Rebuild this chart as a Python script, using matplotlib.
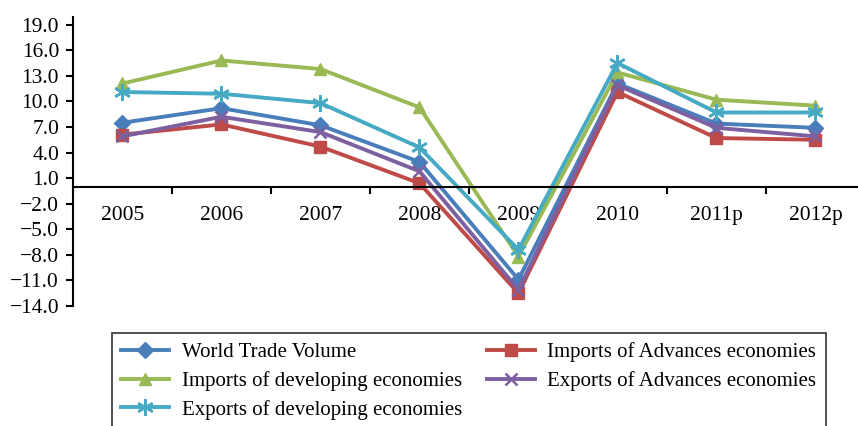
import matplotlib
matplotlib.use("Agg")
import matplotlib.pyplot as plt

years = ["2005", "2006", "2007", "2008", "2009", "2010", "2011p", "2012p"]

world_trade = [7.5, 9.2, 7.2, 2.9, -10.9, 12.1, 7.4, 6.9]
imports_adv = [6.1, 7.3, 4.7, 0.4, -12.5, 11.1, 5.7, 5.5]
imports_dev = [12.1, 14.8, 13.8, 9.3, -8.2, 13.4, 10.2, 9.5]
exports_adv = [5.9, 8.2, 6.4, 1.8, -12.1, 11.9, 6.9, 5.9]
exports_dev = [11.1, 10.9, 9.8, 4.6, -7.4, 14.5, 8.7, 8.7]

series = [
    ("World Trade Volume", world_trade, "#4a7ebb", "D", 8),
    ("Imports of Advances economies", imports_adv, "#be4b48", "s", 9),
    ("Imports of developing economies", imports_dev, "#98b954", "^", 9),
    ("Exports of Advances economies", exports_adv, "#7d60a0", "x", 9),
    ("Exports of developing economies", exports_dev, "#46aac5", (6, 2, 0), 12),
]

plt.rcParams["font.family"] = ["Liberation Serif", "DejaVu Serif"]
plt.rcParams["font.size"] = 15.5

fig = plt.figure(figsize=(8.58, 4.26), dpi=100)
ax = fig.add_axes([73 / 858, 1 - 306 / 426, 1 - 73 / 858, (306 - 17) / 426])

x = list(range(len(years)))
lines = {}
for name, vals, color, marker, ms in series:
    mew = 1.8 if marker in ("x", (6, 2, 0)) else 1
    (ln,) = ax.plot(x, vals, color=color, lw=2.8, marker=marker, ms=ms,
                    mew=mew, label=name)
    lines[name] = ln

ax.set_xlim(-0.5, 7.43)
ax.set_ylim(-14, 19.9)
ax.set_yticks([19, 16, 13, 10, 7, 4, 1, -2, -5, -8, -11, -14])
ax.set_yticklabels([f"{v:.1f}".replace("-", "\u2212") for v in ax.get_yticks()])

ax.set_xticks(x)
ax.set_xticklabels(years)
ax.set_xticks([i + 0.5 for i in range(7)], minor=True)
ax.tick_params(axis="x", which="major", length=0, pad=14)
ax.tick_params(axis="x", which="minor", length=5, width=1.5, direction="out")
ax.tick_params(axis="y", length=5, width=1.5, direction="out", pad=5)

ax.spines["top"].set_visible(False)
ax.spines["right"].set_visible(False)
ax.spines["bottom"].set_position(("data", 0))
ax.spines["left"].set_linewidth(1.5)
ax.spines["bottom"].set_linewidth(1.5)

# legend is filled row by row in the reference
order = [
    "World Trade Volume",
    "Imports of developing economies",
    "Exports of developing economies",
    "Imports of Advances economies",
    "Exports of Advances economies",
]
leg = fig.legend([lines[n] for n in order], order,
                 loc="upper left", bbox_to_anchor=(112 / 858, 1 - 333 / 426),
                 borderaxespad=0, ncol=2, frameon=True, fancybox=False,
                 edgecolor="black", fontsize=15, handlelength=2.3,
                 columnspacing=1.2, labelspacing=0.42, borderpad=0.45,
                 handletextpad=0.6)
leg.get_frame().set_linewidth(1.2)

fig.savefig("out.png", dpi=100)
